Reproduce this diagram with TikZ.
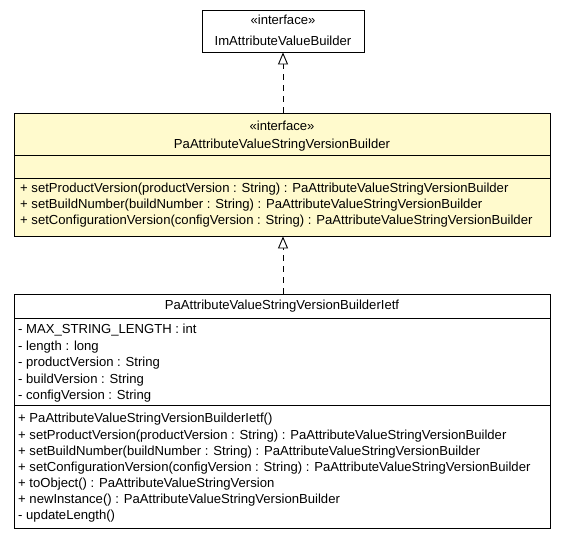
\documentclass[tikz,border=0pt]{standalone}
\usepackage{fontspec}
\setmainfont{Liberation Sans}
\usetikzlibrary{arrows.meta}
\definecolor{ifacefill}{HTML}{FFFACD}
\tikzset{
  umlbox/.style={draw=black, line width=0.9pt, inner sep=0pt},
  txt/.style={inner sep=0pt, anchor=base west, font=\fontsize{13.1}{15}\selectfont},
  ctxt/.style={inner sep=0pt, anchor=base, font=\fontsize{13.1}{15}\selectfont},
  realize/.style={draw=black, line width=0.9pt, dash pattern=on 6pt off 5pt,
     -{Triangle[open, length=12pt, width=10pt, fill=white]}},
  sep/.style={draw=black, line width=0.9pt}
}
\begin{document}
\begin{tikzpicture}[x=1pt,y=-1pt]
\useasboundingbox (0,0) rectangle (565,539);
% top interface
\node[umlbox, fill=white, minimum width=162pt, minimum height=42pt] (top) at (283,31) {};
\node[ctxt] (topst) at (283,24) {«interface»};
\node[ctxt] (topname) at (283,45) {ImAttributeValueBuilder};
% middle interface
\node[umlbox, fill=ifacefill, minimum width=536pt, minimum height=123pt] (mid) at (282,174.5) {};
\draw[sep] (14,155) -- (550,155);
\draw[sep] (14,178) -- (550,178);
\node[ctxt] (midst) at (282,130) {«interface»};
\node[ctxt] (midname) at (282,148) {PaAttributeValueStringVersionBuilder};
\node[txt] (m1) at (20,192) {+ setProductVersion(productVersion : String) : PaAttributeValueStringVersionBuilder};
\node[txt] (m2) at (20,208) {+ setBuildNumber(buildNumber : String) : PaAttributeValueStringVersionBuilder};
\node[txt] (m3) at (20,224) {+ setConfigurationVersion(configVersion : String) : PaAttributeValueStringVersionBuilder};
% bottom class
\node[umlbox, fill=white, minimum width=536pt, minimum height=234pt] (bot) at (282,411) {};
\draw[sep] (14,318) -- (550,318);
\draw[sep] (14,405) -- (550,405);
\node[ctxt] (botname) at (282,309) {PaAttributeValueStringVersionBuilderIetf};
\node[txt] (a1) at (18,333) {- MAX\_STRING\_LENGTH : int};
\node[txt] (a2) at (18,350) {- length : long};
\node[txt] (a3) at (18,366) {- productVersion : String};
\node[txt] (a4) at (18,383) {- buildVersion : String};
\node[txt] (a5) at (18,399) {- configVersion : String};
\node[txt] (o1) at (18,422) {+ PaAttributeValueStringVersionBuilderIetf()};
\node[txt] (o2) at (18,439) {+ setProductVersion(productVersion : String) : PaAttributeValueStringVersionBuilder};
\node[txt] (o3) at (18,455) {+ setBuildNumber(buildNumber : String) : PaAttributeValueStringVersionBuilder};
\node[txt] (o4) at (18,471) {+ setConfigurationVersion(configVersion : String) : PaAttributeValueStringVersionBuilder};
\node[txt] (o5) at (18,487) {+ toObject() : PaAttributeValueStringVersion};
\node[txt] (o6) at (18,503) {+ newInstance() : PaAttributeValueStringVersionBuilder};
\node[txt] (o7) at (18,519) {- updateLength()};
% connectors
\draw[realize] (mid.north -| top.south) -- (top.south);
\draw[realize] (bot.north -| top.south) -- (mid.south -| top.south);
\end{tikzpicture}
\end{document}
